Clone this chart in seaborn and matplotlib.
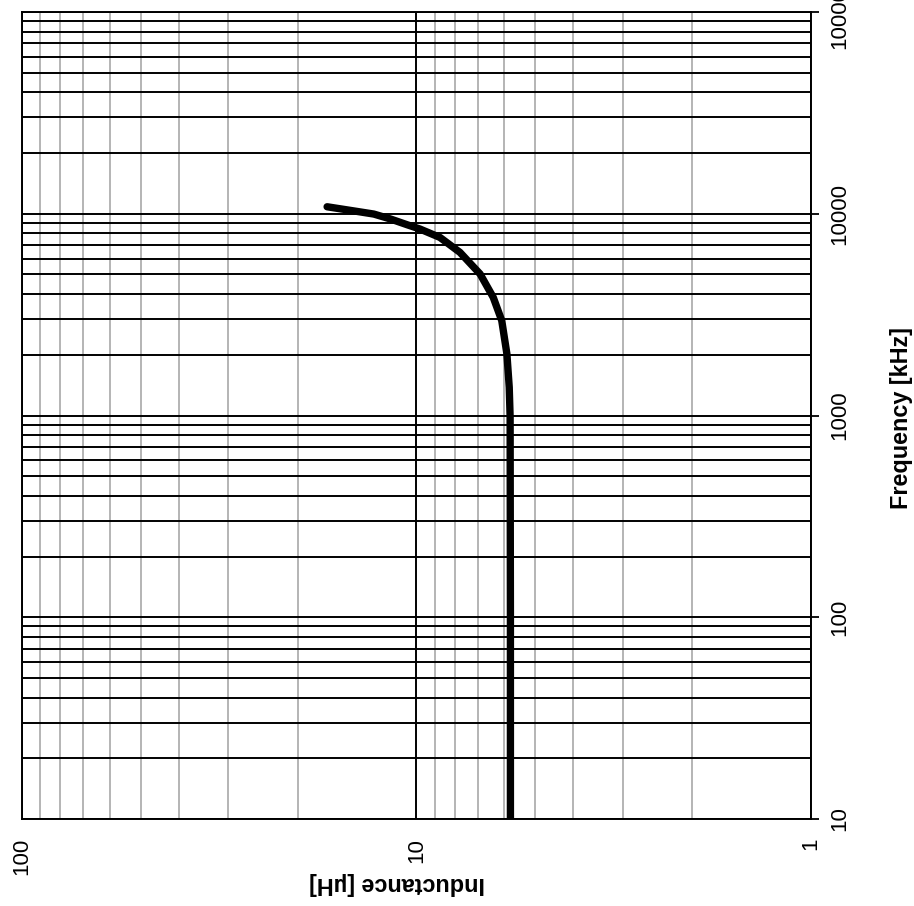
import matplotlib
matplotlib.use("Agg")
import matplotlib.pyplot as plt
from matplotlib.ticker import FixedLocator, LogLocator, NullFormatter
import seaborn as sns
import pandas as pd

# Data
frequency_khz = [10, 100, 982, 1380, 2020, 2953, 3852, 5030, 6435, 7630,
                 8400, 8820, 9420, 9965, 10270, 10830]
inductance_uh = [5.78, 5.78, 5.79, 5.82, 5.90, 6.08, 6.39, 6.90, 7.76, 8.72,
                 9.80, 10.56, 11.64, 12.83, 14.15, 16.85]

freq_ticks = [10, 100, 1000, 10000, 100000]
freq_labels = ["10", "100", "1000", "10000", "100000"]
ind_ticks = [100, 10, 1]
ind_labels = ["100", "10", "1"]

df = pd.DataFrame({"Inductance": inductance_uh, "Frequency": frequency_khz})

sns.set_style("white")
plt.rcParams["font.family"] = ["Liberation Sans", "DejaVu Sans"]
plt.rcParams["text.color"] = "black"
plt.rcParams["xtick.color"] = "black"
plt.rcParams["ytick.color"] = "black"
plt.rcParams["axes.labelcolor"] = "black"

W, H = 914, 906
fig = plt.figure(figsize=(W / 100, H / 100), dpi=100)
left, right, top, bottom = 22, 811, 12, 819
ax = fig.add_axes([left / W, (H - bottom) / H, (right - left) / W, (bottom - top) / H])

ax.set_xscale("log")
ax.set_yscale("log")
ax.set_xlim(100, 1)
ax.set_ylim(10, 100000)

sns.lineplot(data=df, x="Inductance", y="Frequency", sort=False, estimator=None,
             color="black", linewidth=5.3, ax=ax, solid_capstyle="round",
             solid_joinstyle="round", zorder=5)

# ticks
ax.xaxis.set_major_locator(FixedLocator(ind_ticks))
ax.set_xticklabels(ind_labels)
ax.yaxis.set_major_locator(FixedLocator(freq_ticks))
ax.set_yticklabels(freq_labels)
ax.xaxis.set_minor_locator(LogLocator(base=10, subs=range(2, 10), numticks=20))
ax.yaxis.set_minor_locator(LogLocator(base=10, subs=range(2, 10), numticks=20))
ax.xaxis.set_minor_formatter(NullFormatter())
ax.yaxis.set_minor_formatter(NullFormatter())

ax.yaxis.tick_right()
ax.yaxis.set_label_position("right")

ax.tick_params(axis="both", which="major", direction="out", length=5.5, width=1.3,
               color="black", labelcolor="black", labelsize=16, pad=8)
ax.tick_params(axis="both", which="minor", length=0)
for lab in ax.get_xticklabels():
    lab.set_rotation(90)
    lab.set_va("top")
    lab.set_ha("center")
for lab in ax.get_yticklabels():
    lab.set_rotation(90)
    lab.set_va("center")
    lab.set_ha("left")

# grid
ax.grid(which="major", axis="both", color="black", linewidth=1.4)
ax.grid(which="minor", axis="y", color="black", linewidth=1.4)
ax.grid(which="minor", axis="x", color="#b4b4b4", linewidth=1.4)
ax.set_axisbelow(True)

for s in ax.spines.values():
    s.set_color("black")
    s.set_linewidth(1.4)

ax.set_xlabel("Inductance [µH]", fontsize=16.8, fontweight="bold", rotation=180,
              va="center", ha="center", color="black")
ax.xaxis.set_label_coords((397 - left) / (right - left), (bottom - 883) / (bottom - top))
ax.set_ylabel("Frequency [kHz]", fontsize=16.8, fontweight="bold", rotation=90,
              va="center", ha="center", color="black")
ax.yaxis.set_label_coords((902 - left) / (right - left), (bottom - 418) / (bottom - top))

fig.savefig("out.png", dpi=100)
